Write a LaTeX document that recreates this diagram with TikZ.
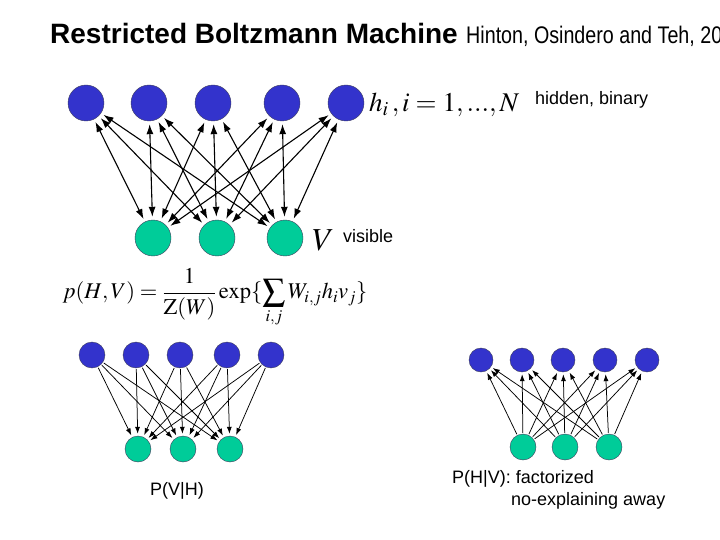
\documentclass[tikz,border=0pt]{standalone}
\usepackage{amsmath}
\usepackage{mathptmx}
\usepackage[no-math]{fontspec}
\setmainfont{Liberation Sans}
\newfontfamily\narrowfont{Liberation Sans}[FakeStretch=0.82]
\usepackage{tikz}
\usetikzlibrary{arrows.meta}
\definecolor{hidblue}{RGB}{51,51,204}
\definecolor{visgreen}{RGB}{0,204,153}
\definecolor{rimgrey}{RGB}{60,60,90}

\begin{document}
\begin{tikzpicture}[x=1pt,y=-1pt,
  hid/.style={circle,fill=hidblue,draw=rimgrey,line width=0.4pt,inner sep=0pt},
  vis/.style={circle,fill=visgreen,draw=rimgrey,line width=0.4pt,inner sep=0pt},
  link/.style={line width=1.1pt,shorten >=3pt,shorten <=3pt},
  small link/.style={line width=0.75pt,shorten >=2pt,shorten <=1pt,-{Latex[length=7pt,width=5pt]}},
  lbl/.style={font=\fontsize{18}{21}\selectfont}]
\useasboundingbox (0,0) rectangle (720,540);
% title
\node[anchor=base west,inner sep=0pt] (title) at (50,44)
  {\fontsize{28}{32}\selectfont\bfseries Restricted Boltzmann Machine};
\node[anchor=base west,inner sep=0pt] (cite) at ([xshift=8pt]title.base east)
  {\narrowfont\fontsize{24}{28}\selectfont Hinton, Osindero and Teh, 20};
% full model
\node[hid,minimum size=36pt] (h1) at (86,103) {};
\node[hid,minimum size=36pt] (h2) at (149,103) {};
\node[hid,minimum size=36pt] (h3) at (213,103) {};
\node[hid,minimum size=36pt] (h4) at (282,103) {};
\node[hid,minimum size=36pt] (h5) at (346,103) {};
\node[vis,minimum size=36pt] (v1) at (153,238) {};
\node[vis,minimum size=36pt] (v2) at (217,238) {};
\node[vis,minimum size=36pt] (v3) at (285,238) {};
\foreach \i in {1,...,5}
  \foreach \j in {1,2,3}
    \draw[link,{Latex[length=10pt,width=7pt]}-{Latex[length=10pt,width=7pt]}] (h\i) -- (v\j);
\node[anchor=west,inner sep=0pt] (hlabel) at (369,105)
  {\fontsize{27}{31}\selectfont $h_i\,, i=1,...,N$};
\node[lbl,anchor=base west,inner sep=0pt] (hidtxt) at (535,105) {hidden, binary};
\node[anchor=west,inner sep=0pt] (vlabel) at (312,240)
  {\fontsize{32}{36}\selectfont $V$};
\node[lbl,anchor=base west,inner sep=0pt] (vistxt) at (343,243) {visible};
% joint distribution
\node[inner sep=0pt] (joint) at (215,298) {\fontsize{22.5}{26}\selectfont
  $p(H,V)=\dfrac{1}{\mathrm{Z}(W)}\exp\{\displaystyle\sum_{i,j}W_{i,j}h_iv_j\}$};
% conditional P(V|H)
\node[hid,minimum size=26pt] (a1) at (92,355) {};
\node[hid,minimum size=26pt] (a2) at (136,355) {};
\node[hid,minimum size=26pt] (a3) at (180,355) {};
\node[hid,minimum size=26pt] (a4) at (227,355) {};
\node[hid,minimum size=26pt] (a5) at (271,355) {};
\node[vis,minimum size=26pt] (b1) at (138,449) {};
\node[vis,minimum size=26pt] (b2) at (183,449) {};
\node[vis,minimum size=26pt] (b3) at (230,449) {};
\foreach \i in {1,...,5}
  \foreach \j in {1,2,3}
    \draw[small link] (a\i) -- (b\j);
\node[lbl,anchor=base west,inner sep=0pt] (pvh) at (150,495) {P(V|H)};
% conditional P(H|V)
\node[hid,minimum size=24pt] (c1) at (481,360) {};
\node[hid,minimum size=24pt] (c2) at (522,360) {};
\node[hid,minimum size=24pt] (c3) at (563,360) {};
\node[hid,minimum size=24pt] (c4) at (605,360) {};
\node[hid,minimum size=24pt] (c5) at (647,360) {};
\node[vis,minimum size=26pt] (d1) at (523,447) {};
\node[vis,minimum size=26pt] (d2) at (565,447) {};
\node[vis,minimum size=26pt] (d3) at (609,447) {};
\foreach \j in {1,2,3}
  \foreach \i in {1,...,5}
    \draw[small link] (d\j) -- (c\i);
\node[lbl,anchor=base west,inner sep=0pt] (phv) at (452,483) {P(H|V): factorized};
\node[lbl,anchor=base west,inner sep=0pt] (phv2) at (511,505) {no-explaining away};
\end{tikzpicture}
\end{document}
